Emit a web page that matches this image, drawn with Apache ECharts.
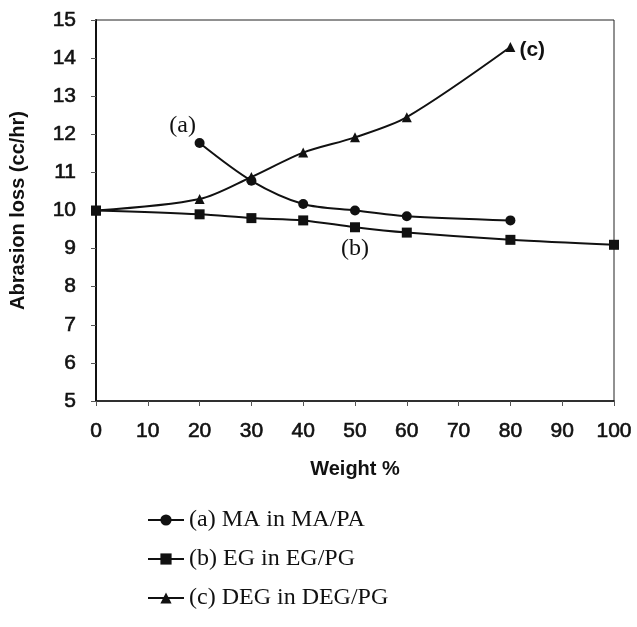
<!DOCTYPE html>
<html>
<head>
<meta charset="utf-8">
<script src="https://cdn.jsdelivr.net/npm/echarts@6/dist/echarts.min.js"></script>
<style>
html,body{margin:0;padding:0;background:#fff;}
#chart{width:637px;height:627px;}
</style>
</head>
<body>
<div id="chart"></div>
<script>
// ---- data ----
const seriesNames = ['(a) MA in MA/PA', '(b) EG in EG/PG', '(c) DEG in DEG/PG'];
const xA = [20, 30, 40, 50, 60, 80];
const yA = [11.77, 10.78, 10.17, 10.0, 9.85, 9.74];
const xB = [0, 20, 30, 40, 50, 60, 80, 100];
const yB = [10.0, 9.9, 9.8, 9.74, 9.56, 9.42, 9.23, 9.1];
const xC = [0, 20, 30, 40, 50, 60, 80];
const yC = [10.0, 10.3, 10.88, 11.52, 11.92, 12.45, 14.29];
const xTicks = [0, 10, 20, 30, 40, 50, 60, 70, 80, 90, 100];
const yTicks = [5, 6, 7, 8, 9, 10, 11, 12, 13, 14, 15];
const labelA = '(a)', labelB = '(b)', labelC = '(c)';

function pairs(xs, ys) { return xs.map((x, i) => [x, ys[i]]); }

const dA = pairs(xA, yA);
dA[0] = { value: dA[0], label: { show: true, formatter: labelA, position: 'top', offset: [-17, 5],
  fontFamily: 'Liberation Serif', fontSize: 24, color: '#111' } };
const dB = pairs(xB, yB);
dB[4] = { value: dB[4], label: { show: true, formatter: labelB, position: 'bottom', offset: [0, -1],
  fontFamily: 'Liberation Serif', fontSize: 24, color: '#111' } };
const dC = pairs(xC, yC);
dC[dC.length - 1] = { value: dC[dC.length - 1], label: { show: true, formatter: labelC, position: 'right', offset: [-1, 3],
  fontFamily: 'Liberation Sans', fontWeight: 'bold', fontSize: 21, color: '#111' } };

const chart = echarts.init(document.getElementById('chart'), null, { renderer: 'canvas' });
const lineStyle = { color: '#111', width: 2 };
const common = { type: 'line', smooth: 0.3, symbolSize: 10, lineStyle: lineStyle,
  itemStyle: { color: '#111' }, emphasis: { disabled: true }, animation: false };

const tickFont = { fontFamily: 'Liberation Sans', fontSize: 21, color: '#111',
  textBorderColor: '#111', textBorderWidth: 0.6 };

chart.setOption({
  animation: false,
  grid: { left: 90.5, right: 23, top: 20, bottom: 226, show: true, borderColor: '#222', borderWidth: 1, backgroundColor: 'transparent' },
  xAxis: {
    type: 'value', min: 0, max: 100, interval: 10,
    name: 'Weight %', nameLocation: 'middle', nameGap: 58,
    nameTextStyle: { fontFamily: 'Liberation Sans', fontWeight: 'bold', fontSize: 20, color: '#111' },
    axisLine: { show: true, lineStyle: { color: '#111', width: 1.5 } },
    axisTick: { show: true, length: 5, lineStyle: { color: '#555' } },
    axisLabel: Object.assign({ margin: 20, formatter: v => xTicks.includes(v) ? String(v) : '' }, tickFont),
    splitLine: { show: false }
  },
  yAxis: {
    type: 'value', min: 5, max: 15, interval: 1,
    name: 'Abrasion loss (cc/hr)', nameLocation: 'middle', nameGap: 68, nameRotate: 90,
    nameTextStyle: { fontFamily: 'Liberation Sans', fontWeight: 'bold', fontSize: 20, color: '#111' },
    axisLine: { show: true, lineStyle: { color: '#111', width: 2 } },
    axisTick: { show: true, length: 5, lineStyle: { color: '#555' } },
    axisLabel: Object.assign({ margin: 20, formatter: v => yTicks.includes(v) ? String(v) : '' }, tickFont),
    splitLine: { show: false }
  },
  legend: {
    orient: 'vertical', left: 142, top: 503, itemGap: 15, itemWidth: 36, itemHeight: 14,
    textStyle: { fontFamily: 'Liberation Serif', fontSize: 24, color: '#111' },
    data: seriesNames
  },
  series: [
    Object.assign({}, common, { name: seriesNames[0], symbol: 'circle', data: dA }),
    Object.assign({}, common, { name: seriesNames[1], symbol: 'rect', data: dB }),
    Object.assign({}, common, { name: seriesNames[2], symbol: 'triangle', data: dC })
  ]
});
</script>
</body>
</html>
